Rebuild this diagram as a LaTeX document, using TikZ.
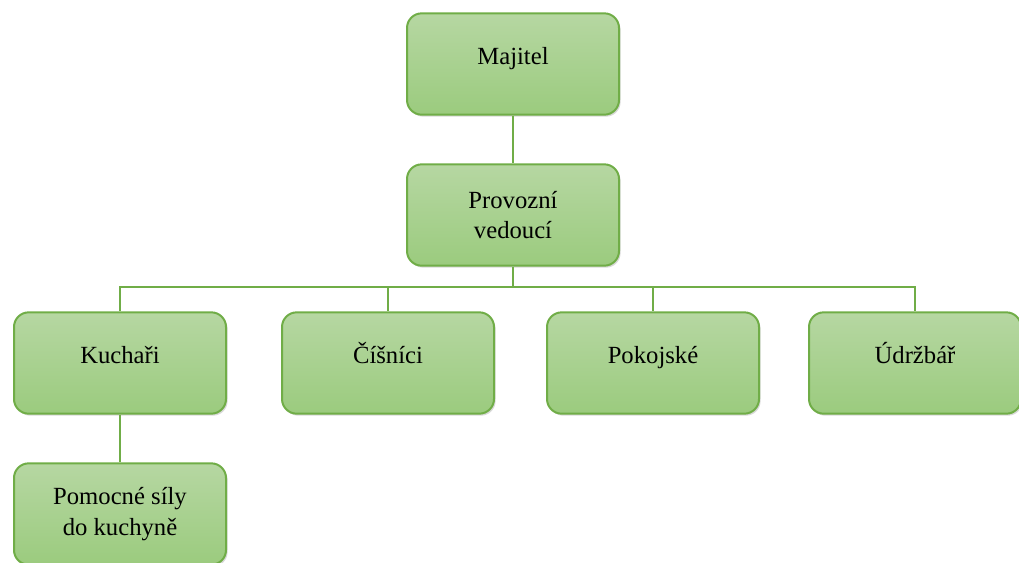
\documentclass[tikz,border=0pt]{standalone}
\usepackage{fontspec}
\setmainfont{Liberation Serif}
\usetikzlibrary{shadows}
\definecolor{boxtop}{HTML}{B6D7A2}
\definecolor{boxbot}{HTML}{9BCB7E}
\definecolor{boxline}{HTML}{70AD47}
\tikzset{
  role/.style={rectangle,rounded corners=11pt,draw=boxline,line width=1.5pt,
    top color=boxtop,bottom color=boxbot,minimum width=159pt,minimum height=76pt,
    align=center,font=\fontsize{18.5}{23}\selectfont,
    drop shadow={opacity=0.3,shadow xshift=1.2pt,shadow yshift=-1.5pt}},
  oneline/.style={role,text height=10pt,text depth=10pt},
  link/.style={draw=boxline,line width=1.3pt}
}
\begin{document}
\begin{tikzpicture}[x=0.75pt,y=-0.75pt]
    \useasboundingbox (0,0) rectangle (1019,562);
    % — Top of the hierarchy
    \node[oneline] (owner) at (513, 64) {Majitel};
    \node[role] (manager) at (513,215) {Provozní\\vedoucí};

    % — Departments
    \node[oneline] (cooks)   at (120,363) {Kuchaři};
    \node[oneline] (waiters) at (388,363) {Číšníci};
    \node[oneline] (maids)   at (653,363) {Pokojské};
    \node[oneline] (keeper)  at (915,363) {Údržbář};

    % — Kitchen help below the cooks
    \node[role] (helpers) at (120,514) {Pomocné síly\\do kuchyně};

    % — Connectors
    \coordinate (bus) at (513,287);
    \draw[link] (owner) -- (manager);
    \draw[link] (manager) -- (bus);
    \draw[link] (bus) -| (cooks.north);
    \draw[link] (bus) -| (waiters.north);
    \draw[link] (bus) -| (maids.north);
    \draw[link] (bus) -| (keeper.north);
    \draw[link] (cooks) -- (helpers);
\end{tikzpicture}
\end{document}
